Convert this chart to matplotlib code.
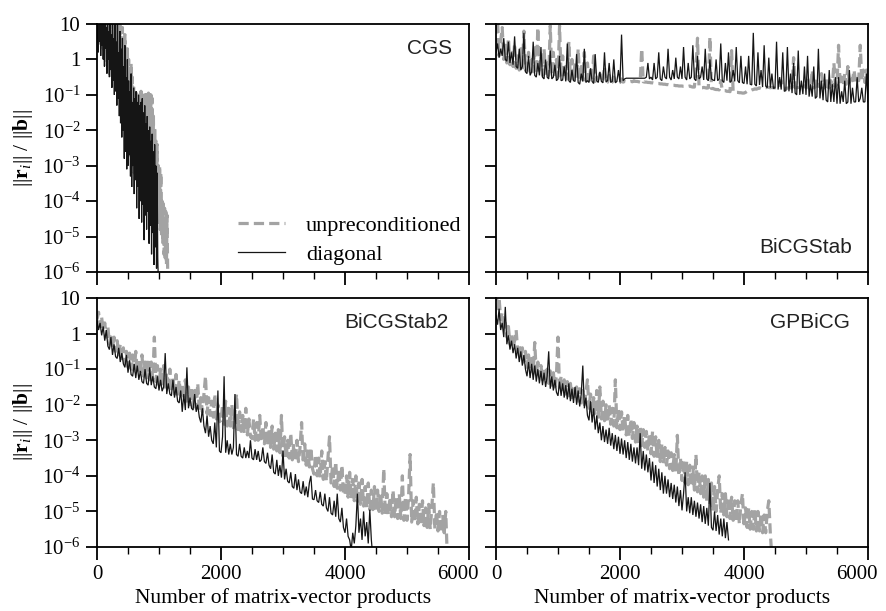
import numpy as np
import matplotlib
matplotlib.use("Agg")
import matplotlib.pyplot as plt
import matplotlib.transforms as mtransforms
from matplotlib.ticker import FixedLocator, FixedFormatter, MultipleLocator, NullFormatter

plt.rcParams['mathtext.fontset'] = 'custom'
plt.rcParams['mathtext.rm'] = 'Liberation Serif'
plt.rcParams['mathtext.bf'] = 'Liberation Serif:bold'
plt.rcParams['mathtext.it'] = 'Liberation Serif:italic'
plt.rcParams['font.family'] = 'Liberation Serif'

# ---------------- data (log10 of relative residual ||r_i||/||b||) ----------------
panel_names = ["CGS", "BiCGStab", "BiCGStab2", "GPBiCG"]
series_labels = ["unpreconditioned", "diagonal"]

# CGS (step 10 matrix-vector products)
cgs_unprec_step = 10
cgs_unprec = [
    0.8, 1.3, 0.5, 1.3, 0.6, 1.2, 0.4, 1.3, 0.7, 1.2,
    0.3, 1.3, 0.1, 1.1, 0.4, 1.3, -0.2, 1.0, 0.2, 1.3,
    -0.4, 1.2, -0.5, 1.1, -0.2, 1.3, -0.5, 0.9, -0.3, 1.3,
    -0.6, 1.0, -0.4, 1.3, -0.8, 0.8, -0.6, 1.1, -1.0, 0.6,
    -1.2, 0.9, -1.5, 0.4, -1.8, 0.7, -2.0, 0.2, -2.3, 0.3,
    -2.5, 0.0, -2.8, -0.3, -2.6, -0.1, -3.0, -0.5, -2.9, -0.7,
    -3.2, -1.0, -2.9, -0.9, -3.4, -1.0, -3.1, -0.95, -3.5, -1.0,
    -3.3, -0.9, -3.6, -1.0, -3.2, -0.95, -3.7, -1.0, -3.4, -1.0,
    -3.8, -1.0, -3.5, -0.95, -4.0, -1.0, -3.6, -1.0, -4.1, -1.1,
    -3.9, -1.6, -4.3, -1.9, -4.0, -2.3, -4.5, -2.4, -4.2, -3.0,
    -4.6, -3.0, -4.8, -3.2, -5.0, -4.0, -5.2, -4.0, -5.5, -4.2,
    -5.6, -4.3, -5.8, -4.4, -6.0, -6.5,
]
cgs_diag_step = 10
cgs_diag = [
    0.6, 1.3, 0.2, 1.2, 0.5, 1.3, 0.1, 1.0, 0.4, 1.3,
    0.0, 1.1, -0.2, 1.2, 0.3, 0.9, -0.4, 1.3, 0.0, 0.8,
    -0.5, 1.1, -0.3, 0.7, -0.8, 1.2, -0.6, 0.6, -1.0, 1.0,
    -0.9, 0.5, -1.3, 1.2, -1.1, 0.2, -1.6, 0.8, -1.8, 0.3,
    -2.2, 0.6, -2.0, -0.2, -2.8, 0.4, -2.6, -0.5, -3.1, 0.0,
    -3.0, -0.6, -2.7, -0.9, -3.3, -0.4, -3.6, -1.2, -3.0, -0.8,
    -3.8, -1.1, -3.4, -0.9, -4.2, -1.2, -3.6, -1.0, -4.5, -1.3,
    -4.0, -1.2, -4.6, -1.1, -4.1, -1.5, -5.1, -1.3, -4.4, -1.8,
    -4.8, -1.6, -4.3, -2.0, -5.2, -1.9, -4.7, -2.3, -5.5, -2.1,
    -4.9, -2.6, -5.8, -2.4, -5.3, -3.0, -5.9, -3.2, -5.6, -6.3,
]

# BiCGStab (step 25)
bicgstab_unprec_step = 25
bicgstab_unprec = [
    0.3, 1.1, 0.1, 0.5, 0.9, 0.0, 0.4, -0.1, 0.6, -0.15, 0.2, -0.2, 0.45, -0.25, 0.1, -0.3, 0.3, -0.3, 0.8, -0.3,
    -0.3, 0.2, -0.35, 0.0, -0.35, 0.4, -0.4, 0.9, -0.4, 0.1, -0.45, 0.3, -0.45, -0.1, -0.45, 0.95, -0.45, 0.2, -0.5, 0.0,
    -0.5, 0.95, -0.5, 0.1, -0.5, -0.2, -0.55, 0.5, -0.55, 0.0, -0.55, -0.1, -0.55, 0.3, -0.58, -0.2, -0.58, 0.2, -0.6, -0.1,
    -0.6, -0.3, -0.6, 0.1, -0.62, -0.5, -0.62, -0.4, -0.62, -0.63, -0.2, -0.63, -0.64, -0.45, -0.64, -0.64, -0.5, -0.65, -0.64, -0.65,
    -0.65, -0.55, -0.64, -0.62, -0.63, -0.62, -0.63, -0.62, -0.63, -0.6, -0.62, -0.62, -0.63, -0.64, 0.3, -0.63, -0.64, -0.64, -0.65, -0.65,
    -0.66, -0.66, -0.67, -0.67, -0.68, -0.68, -0.69, -0.69, -0.7, -0.7, -0.71, -0.71, -0.72, -0.72, -0.73, -0.73, -0.74, -0.74, -0.75, -0.75,
    -0.75, -0.76, -0.76, -0.77, -0.76, -0.75, -0.77, -0.78, -0.78, -0.3, 0.6, -0.79, -0.8, -0.8, -0.79, -0.8, -0.81, -0.8, 0.63, -0.82,
    -0.82, -0.84, -0.85, -0.85, -0.86, -0.6, -0.87, -0.88, -0.88, -0.9, -0.9, -0.91, 0.25, -0.92, -0.92, -0.93, -0.93, -0.94, -0.94, -0.95,
    -0.95, -0.93, -0.9, -0.9, -0.88, -0.86, -0.85, -0.83, -0.84, -0.82, -0.8, -0.82, -0.83, -0.8, -0.8, -0.78, -0.79, -0.8, -0.79, -0.8,
    -0.8, -0.79, -0.78, -0.8, -0.6, -0.8, -0.81, -0.82, -0.81, -0.8, -0.8, -0.79, 0.05, -0.8, -0.8, -0.79, -0.78, -0.77, -0.76, -0.75,
    -0.8, -0.5, -0.82, -0.8, -0.3, -0.8, -0.78, -0.55, -0.76, -0.75, -0.4, -0.78, -0.8, -0.5, -0.78, -0.8, -0.6, -0.76, -0.1, -0.75,
    -0.7, 0.4, -0.72, -0.5, -0.75, -0.4, -0.7, -0.2, -0.65, -0.5, -0.6, -0.3, -0.65, -0.55, -0.6, 0.4, -0.6, -0.3, -0.65, -0.3,
    -0.6,
]
bicgstab_diag_step = 25
bicgstab_diag = [
    0.2, 0.45, 0.05, 0.3, 0.1, 0.6, 0.0, -0.05, 0.5, -0.1, 0.2, -0.15, 0.65, -0.2, -0.25, 0.3, -0.3, -0.2, 0.75, -0.35,
    -0.4, 0.1, -0.45, -0.35, 0.5, -0.45, -0.5, -0.1, -0.45, 0.35, -0.5, -0.55, 0.0, -0.5, -0.55, 0.25, -0.55, -0.5, -0.15, -0.6,
    -0.55, 0.1, -0.6, -0.58, -0.2, -0.62, 0.45, -0.6, -0.65, -0.3, -0.6, -0.62, 0.15, -0.65, -0.7, -0.4, -0.62, 0.3, -0.65, -0.6,
    -0.65, -0.25, -0.62, -0.68, 0.15, -0.6, -0.65, -0.35, -0.62, -0.66, 0.2, -0.64, -0.6, -0.1, -0.65, -0.62, 0.0, -0.66, -0.62, -0.3,
    -0.65, 0.7, -0.6, -0.55, -0.53, -0.53, -0.53, -0.53, -0.53, -0.53, -0.53, -0.53, -0.53, -0.53, -0.53, -0.53, -0.53, -0.5, -0.1, -0.55,
    -0.5, -0.58, -0.1, -0.55, -0.5, 0.2, -0.55, -0.6, -0.2, -0.5, -0.55, 0.3, -0.5, -0.58, -0.3, -0.55, 0.05, -0.5, -0.55, -0.2,
    -0.55, 0.35, -0.5, -0.58, -0.1, -0.55, -0.5, 0.4, -0.55, -0.6, 0.1, -0.55, -0.5, -0.2, -0.58, 0.3, -0.55, -0.6, 0.0, -0.55,
    -0.58, -0.6, 0.0, -0.6, -0.55, 0.45, -0.6, -0.65, -0.1, -0.6, 0.2, -0.65, -0.6, -0.3, -0.62, 0.35, -0.6, -0.66, 0.1, -0.65,
    -0.68, -0.2, -0.7, 0.1, -0.7, -0.72, 0.75, -0.7, -0.75, 0.2, -0.72, -0.3, -0.78, 0.4, -0.75, -0.8, 0.05, -0.8, -0.4, -0.82,
    -0.8, 0.5, -0.85, -0.5, -0.85, 0.2, -0.9, -0.88, 0.35, -0.9, -0.4, -0.95, -0.1, -0.95, -1.0, 0.25, -1.0, -0.6, -0.98, -0.2,
    -1.0, 0.1, -1.05, -0.7, -1.05, -0.2, -1.1, -1.05, 0.3, -1.1, -0.6, -1.15, -0.4, -1.15, -1.2, -0.3, -1.2, -0.7, -1.2, -0.5,
    -1.25, -0.5, -1.25, -0.9, -1.2, -0.6, -1.25, -1.2, -0.3, -1.25, -0.8, -1.2, -1.2, -0.5, -1.2, -1.1, -0.8, -1.2, -1.2, -0.4,
    -1.2,
]

# BiCGStab2 (step 25)
bicgstab2_unprec_step = 25
bicgstab2_unprec = [
    0.4, 0.6, 0.2, 0.45, 0.1, 0.3, -0.1, 0.2, -0.3, 0.0, -0.4, -0.1, -0.5, -0.2, -0.6, -0.3, -0.7, -0.4, -0.85, -0.5,
    -0.95, -0.55, -1.0, -0.6, -1.05, -0.5, -1.1, -0.7, -1.15, -0.6, -1.2, -0.8, -1.25, -0.7, -1.3, -0.8, -1.3, -0.1, -1.35, -0.9,
    -1.45, -1.0, -1.5, -0.9, -1.55, -1.1, -1.6, -1.0, -1.65, -1.2, -1.7, -1.15, -1.75, -1.3, -1.8, -1.4, -1.85, -1.3, -1.9, -1.5,
    -2.0, -1.5, -2.05, -1.6, -2.1, -1.4, -2.15, -1.8, -2.2, -1.7, -1.2, -2.25, -1.8, -2.3, -1.9, -2.35, -1.7, -2.4, -2.0, -2.45,
    -2.5, -2.0, -2.55, -1.9, -2.6, -2.1, -2.6, -2.0, -2.65, -2.2, -1.7, -2.7, -2.2, -2.75, -2.3, -2.8, -2.1, -2.85, -2.4, -2.9,
    -2.95, -2.4, -3.0, -2.5, -3.0, -2.3, -3.05, -2.6, -3.1, -2.5, -3.15, -2.7, -3.2, -2.6, -3.25, -2.8, -3.3, -2.7, -3.35, -2.3,
    -3.45, -2.9, -3.5, -3.0, -3.5, -2.8, -3.55, -3.1, -3.6, -3.0, -3.6, -3.2, -2.5, -3.65, -3.1, -3.7, -3.3, -3.75, -3.2, -3.8,
    -3.95, -3.4, -4.0, -3.5, -4.05, -3.3, -4.1, -3.6, -4.15, -3.5, -2.9, -4.2, -3.7, -4.3, -3.6, -4.35, -3.8, -4.4, -3.7, -4.5,
    -4.55, -4.0, -4.6, -3.9, -4.65, -4.1, -4.7, -4.0, -4.75, -4.2, -4.8, -4.1, -4.85, -4.3, -4.9, -4.2, -4.95, -4.4, -4.95, -4.3,
    -5.0, -4.4, -5.0, -4.5, -5.05, -3.8, -5.1, -4.5, -5.1, -4.6, -5.15, -4.4, -5.15, -4.6, -5.2, -4.5, -5.2, -4.0, -5.25, -4.6,
    -5.25, -4.6, -3.4, -5.3, -4.7, -5.3, -4.6, -5.35, -4.8, -5.4, -4.7, -5.4, -4.9, -5.45, -4.8, -5.5, -4.9, -4.2, -5.5, -5.0,
    -5.55, -5.0, -5.6, -5.1, -5.6, -5.0, -6.3,
]
bicgstab2_diag_step = 25
bicgstab2_diag = [
    0.35, 0.1, 0.3, -0.05, 0.2, -0.2, 0.1, -0.35, -0.45, -0.1, -0.6, -0.3, -0.65, -0.7, -0.4, -0.8, -0.55, -0.85, -0.95, -0.6,
    -1.1, -0.75, -1.15, -1.2, -0.85, -1.25, -0.9, -1.3, -1.05, -1.35, -1.4, -1.0, -1.4, -1.45, -0.95, -1.45, -1.2, -1.5, -1.55, -1.2,
    -1.6, -1.3, -1.62, -1.5, -0.55, -1.7, -1.4, -1.7, -1.75, -1.3, -1.8, -1.5, -1.9, -1.95, -1.6, -2.2, -1.7, -2.15, -0.95, -2.1,
    -1.8, -2.1, -2.15, -1.7, -2.2, -2.0, -2.35, -2.5, -2.1, -2.6, -2.8, -2.3, -2.9, -2.6, -3.0, -3.1, -2.5, -3.2, -1.6, -3.3,
    -3.35, -2.9, -1.2, -3.35, -3.0, -3.4, -3.1, -3.4, -3.2, -1.7, -3.4, -3.45, -3.1, -3.45, -3.5, -3.2, -3.5, -3.3, -3.5, -3.0,
    -3.5, -3.55, -3.25, -3.55, -3.3, -3.6, -3.55, -3.2, -3.6, -3.65, -3.35, -3.7, -3.8, -3.4, -3.9, -3.95, -3.55, -4.0, -3.7, -4.05,
    -3.3, -4.1, -3.8, -4.15, -4.2, -3.9, -4.3, -4.35, -3.95, -4.4, -4.1, -4.45, -4.5, -4.15, -4.55, -4.3, -4.6, -4.2, -4.0, -4.65,
    -4.67, -4.4, -4.7, -4.75, -4.45, -4.8, -4.85, -4.5, -4.9, -5.0, -4.6, -5.05, -5.1, -4.7, -5.15, -4.5, -5.2, -5.3, -4.9, -5.45,
    -5.6, -5.2, -5.7, -5.8, -6.1, -5.6, -5.9, -5.4, -4.5, -5.6, -5.2, -5.8, -5.0, -5.7, -5.3, -5.9, -4.95, -5.8, -6.3,
]

# GPBiCG (step 25)
gpbicg_unprec_step = 25
gpbicg_unprec = [
    1.2, 0.7, 1.0, 0.4, 0.6, 0.1, 0.3, -0.1, 0.2, -0.3, 0.0, -0.4, -0.2, 0.1, -0.5, -0.3, -0.7, -0.4, -0.8, -0.5,
    -0.95, -0.6, -1.0, -0.7, -1.1, -0.25, -1.15, -0.8, -1.2, -0.9, -1.3, -0.95, -1.35, -1.0, -1.4, -1.05, -1.45, -1.1, -1.5, -1.15,
    -0.1, -1.6, -1.2, -1.65, -1.3, -1.7, -1.35, -1.75, -1.4, -1.8, -1.45, -1.85, -1.5, -1.9, -1.55, -1.95, -1.6, -2.0, -1.65, -1.3,
    -2.1, -1.7, -2.2, -1.8, -2.3, -1.6, -2.35, -1.5, -2.4, -1.9, -2.45, -2.0, -2.5, -2.0, -2.55, -2.1, -2.6, -1.3, -2.65, -2.1,
    -2.7, -2.2, -2.75, -2.3, -2.85, -2.3, -2.9, -2.4, -2.95, -2.5, -3.05, -2.6, -3.1, -2.6, -3.15, -2.7, -3.2, -2.75, -3.3, -2.8,
    -3.38, -2.75, -3.45, -2.9, -3.5, -3.0, -3.6, -3.1, -3.65, -3.2, -3.7, -3.3, -3.8, -3.35, -3.85, -3.4, -3.9, -2.86, -4.0, -3.5,
    -4.13, -3.55, -4.2, -3.6, -4.25, -3.7, -4.3, -3.75, -4.4, -3.4, -4.45, -3.9, -4.5, -4.0, -4.6, -4.0, -4.7, -4.1, -4.8, -4.2,
    -5.0, -4.3, -5.0, -4.4, -4.0, -5.05, -4.5, -5.1, -4.5, -5.15, -4.6, -5.2, -4.6, -5.25, -4.7, -5.3, -4.7, -5.35, -4.8, -4.5,
    -5.44, -4.9, -5.45, -4.9, -5.5, -5.0, -5.5, -4.95, -5.55, -5.0, -5.55, -5.05, -5.6, -5.1, -5.6, -5.0, -4.7, -5.63, -6.3,
]
gpbicg_diag_step = 25
gpbicg_diag = [
    0.5, 0.25, 0.7, 0.1, 0.3, -0.1, 0.75, -0.3, -0.05, -0.45, -0.2, -0.55, -0.3, -0.7, -0.4, -0.8, -0.5, -0.9, -0.6, -1.0,
    -1.2, -0.8, -1.25, -0.85, -1.3, -0.9, -1.35, -1.0, -1.4, -1.05, -1.45, -1.1, -1.5, -1.2, -0.5, -1.55, -1.2, -1.6, -1.3, -1.65,
    -1.75, -1.35, -1.75, -1.4, -1.8, -1.45, -1.85, -1.4, -1.9, -1.55, -1.95, -1.5, -2.0, -1.6, -2.05, -1.7, -0.9, -2.1, -1.8, -2.3,
    -2.44, -1.9, -2.5, -2.1, -2.7, -2.3, -2.8, -2.5, -3.0, -2.6, -3.05, -2.7, -3.1, -2.65, -3.15, -2.8, -3.25, -2.85, -3.3, -2.9,
    -3.38, -2.95, -3.4, -3.0, -3.5, -3.05, -3.55, -3.1, -3.6, -3.2, -3.65, -3.2, -3.7, -2.8, -3.8, -3.3, -3.85, -3.4, -3.9, -3.5,
    -4.13, -3.6, -4.2, -3.7, -4.3, -3.8, -4.4, -3.9, -4.5, -4.0, -4.5, -4.1, -4.6, -4.2, -4.65, -4.25, -4.75, -4.3, -4.85, -4.4,
    -4.97, -4.5, -3.9, -5.0, -4.6, -5.05, -4.6, -5.1, -4.7, -5.15, -4.75, -5.2, -4.8, -5.3, -4.85, -5.35, -4.9, -5.4, -4.2, -5.45,
    -5.53, -5.0, -5.55, -5.1, -5.65, -5.2, -5.7, -5.2, -5.75, -5.3, -5.8,
]

panels = [
    ((cgs_unprec, cgs_unprec_step), (cgs_diag, cgs_diag_step)),
    ((bicgstab_unprec, bicgstab_unprec_step), (bicgstab_diag, bicgstab_diag_step)),
    ((bicgstab2_unprec, bicgstab2_unprec_step), (bicgstab2_diag, bicgstab2_diag_step)),
    ((gpbicg_unprec, gpbicg_unprec_step), (gpbicg_diag, gpbicg_diag_step)),
]

yticks = [10.0 ** k for k in range(1, -7, -1)]
yticklabels = ['10', '1'] + [r'$10^{%d}$' % k for k in range(-1, -7, -1)]
xticks = [0, 2000, 4000, 6000]
xticklabels = ['0', '2000', '4000', '6000']

GREY = '#a3a3a3'
BLACK = '#151515'

fig = plt.figure(figsize=(8.86, 6.11), dpi=100)
L1, R1 = 97 / 886, 469 / 886
L2, R2 = 496 / 886, 868 / 886
T1, B1 = 1 - 24 / 611, 1 - 272 / 611
T2, B2 = 1 - 298 / 611, 1 - 547 / 611
rects = [
    (L1, B1, R1 - L1, T1 - B1),
    (L2, B1, R2 - L2, T1 - B1),
    (L1, B2, R1 - L1, T2 - B2),
    (L2, B2, R2 - L2, T2 - B2),
]

name_pos = [(0.955, 0.90), (0.957, 0.10), (0.945, 0.90), (0.95, 0.90)]

for i, (rect, name, (unp, diag)) in enumerate(zip(rects, panel_names, panels)):
    ax = fig.add_axes(rect)
    for (vals, step), color, lw, ls, lab in [
        (unp, GREY, 2.3, (0, (3.2, 1.6)), series_labels[0]),
        (diag, BLACK, 0.9, '-', series_labels[1]),
    ]:
        v = np.array(vals, dtype=float)
        x = np.arange(len(v)) * step
        ax.plot(x, 10.0 ** v, color=color, lw=lw, ls=ls, label=lab,
                solid_joinstyle='miter', dash_capstyle='butt')
    ax.set_yscale('log')
    ax.set_ylim(1e-6, 10)
    ax.set_xlim(0, 6000)
    ax.yaxis.set_major_locator(FixedLocator(yticks))
    ax.yaxis.set_minor_locator(FixedLocator([]))
    ax.xaxis.set_major_locator(FixedLocator(xticks))
    ax.xaxis.set_minor_locator(MultipleLocator(500))
    ax.tick_params(axis='both', which='major', direction='out', width=1.3,
                   labelsize=15, pad=4)
    ax.tick_params(axis='x', which='major', length=9)
    ax.tick_params(axis='y', which='major', length=8)
    ax.tick_params(axis='x', which='minor', direction='out', length=5, width=1.0)
    for s in ax.spines.values():
        s.set_linewidth(1.3)
    if i % 2 == 0:
        ax.yaxis.set_major_formatter(FixedFormatter(yticklabels))
        ax.set_ylabel(r'||$\mathbf{r}_{\mathit{i}}$|| / ||$\mathbf{b}$||',
                      fontsize=15.5, labelpad=5)
    else:
        ax.yaxis.set_major_formatter(NullFormatter())
    if i >= 2:
        ax.xaxis.set_major_formatter(FixedFormatter(xticklabels))
        ax.set_xlabel('Number of matrix-vector products', fontsize=15.5, labelpad=3)
        fig.canvas.draw()
        last = ax.get_xticklabels()[-1]
        last.set_transform(last.get_transform() +
                           mtransforms.ScaledTranslation(-11 / 100, 0, fig.dpi_scale_trans))
    else:
        ax.xaxis.set_major_formatter(NullFormatter())
    nx, ny = name_pos[i]
    ax.text(nx, ny, name, transform=ax.transAxes, ha='right', va='center',
            fontsize=15, family='Liberation Sans', color='#222222')
    if i == 0:
        ax.legend(loc='lower right', bbox_to_anchor=(1.022, -0.035), frameon=False,
                  fontsize=16, handlelength=2.1, handletextpad=0.95,
                  labelspacing=0.4, borderaxespad=0.3)

fig.savefig('out.png', dpi=100)
